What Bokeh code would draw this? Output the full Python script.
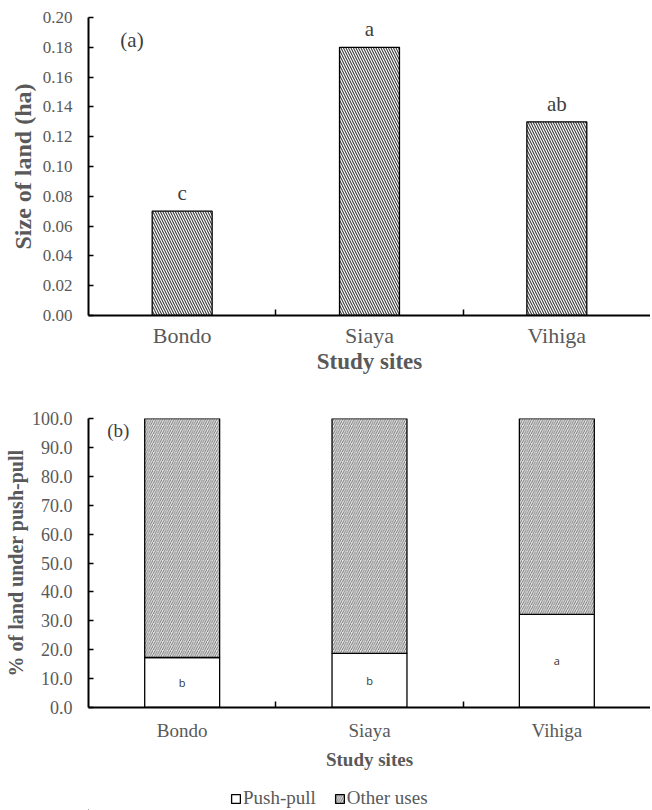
from bokeh.plotting import figure
from bokeh.models import (Range1d, FixedTicker, NumeralTickFormatter, Label,
                          Legend, LegendItem, ColumnDataSource)
from bokeh.layouts import column
from bokeh.embed import file_html
from bokeh.resources import INLINE
from bokeh.core.properties import value

# ---------------- data ----------------
sites = ["Bondo", "Siaya", "Vihiga"]
land_size = [0.07, 0.18, 0.13]
letters_a = ["c", "a", "ab"]
y_ticks_a = [0.00, 0.02, 0.04, 0.06, 0.08, 0.10, 0.12, 0.14, 0.16, 0.18, 0.20]

push_pull = [17.3, 18.7, 32.2]
other_uses = [82.7, 81.3, 67.8]
letters_b = ["b", "b", "a"]
y_ticks_b = [0, 10, 20, 30, 40, 50, 60, 70, 80, 90, 100]

SERIF = "Liberation Serif"
GREY_TXT = "#595959"
W = 650

xpos = list(range(1, len(sites) + 1))
between = [i + 0.5 for i in xpos[:-1]]


def style(p, tick_size, xlab_size, axlab_size, ylab_size, fmt):
    p.xgrid.visible = False
    p.ygrid.visible = False
    p.outline_line_color = None
    p.background_fill_color = "white"
    p.border_fill_color = "white"
    for ax in (p.xaxis[0], p.yaxis[0]):
        ax.axis_line_color = "black"
        ax.axis_line_width = 2
        ax.major_label_text_font = SERIF
        ax.major_label_text_color = GREY_TXT
        ax.axis_label_text_font = SERIF
        ax.axis_label_text_font_style = "bold"
        ax.axis_label_text_color = GREY_TXT
    p.yaxis[0].major_label_text_font_size = tick_size
    p.xaxis[0].major_label_text_font_size = xlab_size
    p.xaxis[0].axis_label_text_font_size = axlab_size
    p.yaxis[0].axis_label_text_font_size = ylab_size
    p.yaxis[0].formatter = NumeralTickFormatter(format=fmt)
    p.yaxis[0].major_tick_in = 5
    p.yaxis[0].major_tick_out = 0
    p.yaxis[0].major_tick_line_color = "black"
    p.yaxis[0].major_tick_line_width = 1.5
    p.yaxis[0].minor_tick_line_color = None
    p.xaxis[0].ticker = FixedTicker(ticks=xpos, minor_ticks=between)
    p.xaxis[0].major_label_overrides = {x: s for x, s in zip(xpos, sites)}
    p.xaxis[0].major_tick_in = 0
    p.xaxis[0].major_tick_out = 0
    p.xaxis[0].minor_tick_in = 6
    p.xaxis[0].minor_tick_out = 0
    p.xaxis[0].minor_tick_line_color = "black"
    p.xaxis[0].minor_tick_line_width = 1.5


# ---------------- (a) ----------------
p1 = figure(width=W, height=380, output_backend="svg", toolbar_location=None,
            x_range=Range1d(0.5, 3.5), y_range=Range1d(0, 0.20),
            min_border_left=88, min_border_right=0, min_border_top=17,
            min_border_bottom=65)
src_a = ColumnDataSource(dict(x=xpos, top=land_size, lab=letters_a))
p1.vbar(x="x", top="top", width=0.32, source=src_a, fill_color="white",
        line_color="black", line_width=1.3,
        hatch_pattern="\\", hatch_color="#3c3c3c", hatch_scale=5, hatch_weight=1.1)
p1.text(x="x", y="top", text="lab", source=src_a, text_align="center",
        text_baseline="bottom", y_offset=-6, text_font=value(SERIF),
        text_font_size="21px", text_color="#404040")
p1.yaxis[0].ticker = FixedTicker(ticks=y_ticks_a)
p1.yaxis[0].axis_label = "Size of land (ha)"
p1.xaxis[0].axis_label = "Study sites"
style(p1, "17px", "22px", "23px", "24px", "0.00")
p1.xaxis[0].major_label_standoff = 7
p1.xaxis[0].axis_label_standoff = -2
p1.yaxis[0].major_label_standoff = 16
p1.yaxis[0].axis_label_standoff = 4
p1.add_layout(Label(x=0.67, y=0.185, text="(a)", text_font=SERIF,
                    text_font_size="21px", text_color="#404040",
                    text_baseline="middle"))

# ---------------- (b) ----------------
p2 = figure(width=W, height=397, output_backend="svg", toolbar_location=None,
            x_range=Range1d(0.5, 3.5), y_range=Range1d(0, 100),
            min_border_left=88, min_border_right=0, min_border_top=38,
            min_border_bottom=70)
src_b = ColumnDataSource(dict(x=xpos, push=push_pull, other=other_uses,
                              lab=letters_b,
                              mid=[v / 2 for v in push_pull]))
stack_style = dict(width=0.4, fill_color=["white", "#e8e8e8"],
                   line_color="black", line_width=1.3,
                   hatch_pattern=[" ", "/"], hatch_color="#4a4a4a",
                   hatch_scale=4.5, hatch_weight=0.75)
p2.vbar_stack(["push", "other"], x="x", source=src_b, **stack_style)
p2.text(x="x", y="mid", text="lab", source=src_b, text_align="center",
        text_baseline="middle", text_font=value("Open Sans"),
        text_font_size="11px", text_color="#333333")
p2.yaxis[0].ticker = FixedTicker(ticks=y_ticks_b)
p2.yaxis[0].axis_label = "% of land under push-pull"
p2.xaxis[0].axis_label = "Study sites"
style(p2, "18px", "19px", "19px", "20px", "0.0")
p2.xaxis[0].major_label_standoff = 12
p2.xaxis[0].axis_label_standoff = 5
p2.yaxis[0].major_label_standoff = 16
p2.yaxis[0].axis_label_standoff = 2
p2.add_layout(Label(x=0.6, y=95.8, text="(b)", text_font=SERIF,
                    text_font_size="19px", text_color="#404040",
                    text_baseline="middle"))

# ---------------- legend strip ----------------
p3 = figure(width=W, height=33, output_backend="svg", toolbar_location=None,
            x_range=Range1d(1000, 1001), y_range=Range1d(1000, 1001),
            x_axis_type=None, y_axis_type=None,
            min_border_left=88, min_border_right=0, min_border_top=0,
            min_border_bottom=0)
p3.xgrid.visible = False
p3.ygrid.visible = False
p3.outline_line_color = None
r = p3.vbar_stack(["push", "other"], x="x", source=src_b, **stack_style)
legend = Legend(items=[LegendItem(label="Push-pull", renderers=[r[0]]),
                       LegendItem(label="Other uses", renderers=[r[1]])],
                orientation="horizontal", location=(142, 1),
                label_text_font=SERIF, label_text_font_size="19px",
                label_text_color=GREY_TXT, glyph_width=11, glyph_height=11,
                label_standoff=2, spacing=18, border_line_color=None,
                padding=2, margin=0, background_fill_alpha=0)
p3.add_layout(legend)

open("out.html", "w").write(file_html(column(p1, p2, p3, spacing=0), INLINE))
